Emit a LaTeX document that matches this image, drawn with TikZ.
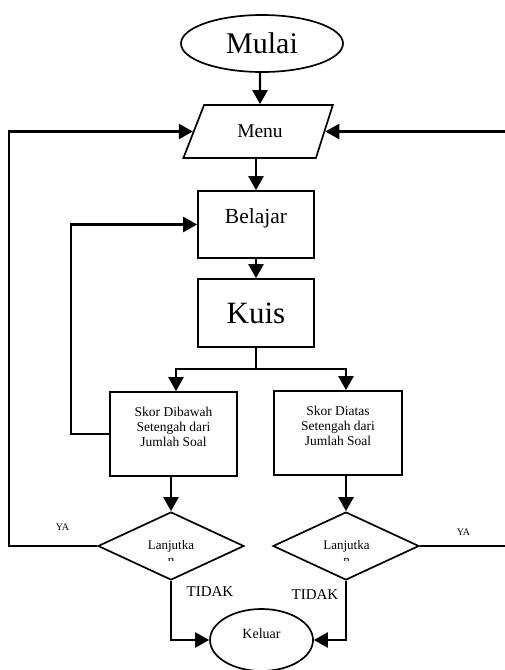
\documentclass[tikz,border=0pt]{standalone}
\usepackage{fontspec}
\setmainfont{Liberation Serif}
\usetikzlibrary{shapes.geometric,arrows.meta}

\begin{document}
\begin{tikzpicture}[x=1pt,y=-1pt]
\tikzstyle{shp}=[draw,line width=1.7pt,inner sep=0pt,align=center]
\tikzstyle{go}=[line width=2.3pt,-{Triangle[length=14pt,width=15pt]}]
\tikzstyle{ln}=[line width=2.3pt]
\tikzstyle{lbl}=[inner sep=0pt,align=center]
\useasboundingbox (0,0) rectangle (505,670);
\node[shp,ellipse,minimum width=162,minimum height=57,font=\fontsize{30}{32}\selectfont] (mulai) at (262,43.5) {Mulai};
\node[shp,trapezium,trapezium left angle=57,trapezium right angle=118,trapezium stretches=true,minimum width=150,minimum height=53,font=\fontsize{19.5}{21}\selectfont] (menu) at (260,131.5) {Menu};
\node[shp,minimum width=116,minimum height=67,font=\fontsize{21.5}{16}\selectfont] (belajar) at (256,224.5) {Belajar\\~};
\node[shp,minimum width=116,minimum height=68,font=\fontsize{31}{33}\selectfont] (kuis) at (256,313) {Kuis};
\node[shp,minimum width=127,minimum height=84,font=\fontsize{13.5}{15}\selectfont] (skor1) at (173.5,434) {Skor Dibawah\\Setengah dari\\Jumlah Soal\\~};
\node[shp,minimum width=128,minimum height=84,font=\fontsize{13.5}{15}\selectfont] (skor2) at (338,433) {Skor Diatas\\Setengah dari\\Jumlah Soal\\~};
\node[shp,diamond,minimum width=146,minimum height=68] (lanjut1) at (171,546) {};
\node[shp,diamond,minimum width=146,minimum height=68] (lanjut2) at (346,546) {};
\node[shp,ellipse,minimum width=103,minimum height=62,font=\fontsize{14}{12}\selectfont] (keluar) at (261.5,640) {Keluar\\~};
\begin{scope}
\clip (90,520) rectangle (420,560);
\node[lbl,font=\fontsize{13}{15}\selectfont] (tanya1) at (171,552) {Lanjutka\\n};
\node[lbl,font=\fontsize{13}{15}\selectfont] (tanya2) at (346.5,552) {Lanjutka\\n};
\end{scope}
\node[lbl,font=\fontsize{10}{12}\selectfont] (ya1) at (62.5,527) {YA};
\node[lbl,font=\fontsize{10}{12}\selectfont] (ya2) at (463.5,532) {YA};
\node[lbl,font=\fontsize{15}{17}\selectfont] (tidak1) at (210,592) {TIDAK};
\node[lbl,font=\fontsize{15}{17}\selectfont] (tidak2) at (315,595) {TIDAK};
\coordinate (cabang) at (256,369);
\draw[go] (mulai.south -| menu) -- (menu);
\draw[go] (menu.south -| belajar) -- (belajar);
\draw[go] (belajar) -- (kuis);
\draw[ln] (kuis) -- (cabang);
\draw[go] (cabang) -| ([xshift=2.5pt]skor1.north);
\draw[go] (cabang) -| ([xshift=8pt]skor2.north);
\draw[go] (skor1.south -| lanjut1) -- (lanjut1);
\draw[go] (skor2.south -| lanjut2) -- (lanjut2);
\draw[go] (skor1.west) -- ++(-38,0) |- (belajar);
\draw[go] (lanjut1.west) -- ++(-88,0) |- (menu);
\draw[go] (lanjut2.east) -- ++(90,0) |- (menu);
\draw[go] (lanjut1.south) |- (keluar);
\draw[go] (lanjut2.south) |- (keluar);
\end{tikzpicture}
\end{document}
